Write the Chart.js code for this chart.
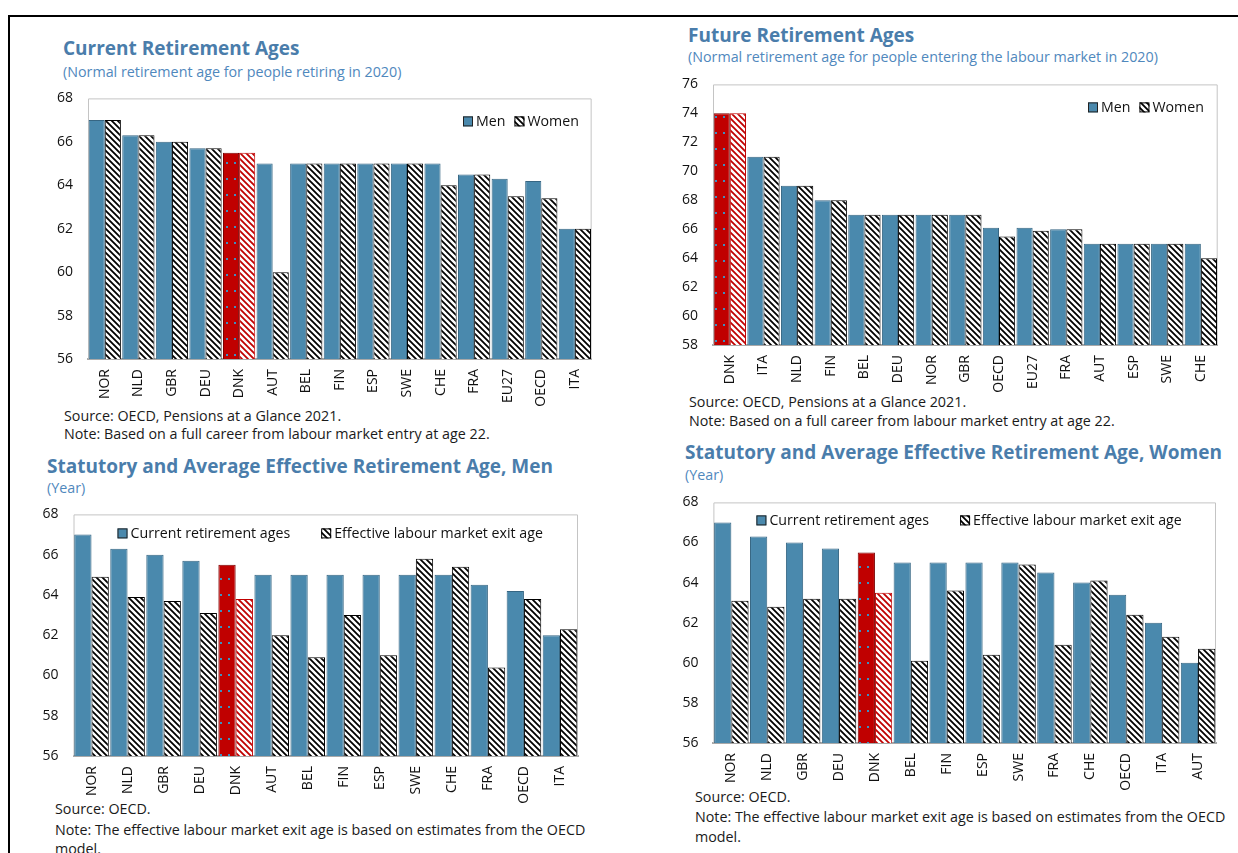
<!DOCTYPE html>
<html>
<head>
<meta charset="utf-8">
<script src="https://cdn.jsdelivr.net/npm/chart.js@4.4.0/dist/chart.umd.min.js"></script>
<style>
  html, body { margin:0; padding:0; background:#fff; }
  body { width:1238px; height:853px; position:relative; overflow:hidden; font-family:"Open Sans", "Noto Sans", sans-serif; }
  .frame { position:absolute; left:8px; top:15px; width:1240px; height:860px; border-top:2px solid #000; border-left:2px solid #000; }
  .t { position:absolute; white-space:nowrap; }
  .title { font-weight:700; font-size:19px; line-height:24px; color:#4a7dab; }
  .sub { font-size:14.3px; line-height:18px; color:#5088bd; }
  .src { font-size:14.3px; line-height:18px; color:#1a1a1a; }
  .box { position:absolute; }
</style>
</head>
<body>
<div class="frame"></div>

<div class="t title" style="left:63px; top:36px;">Current Retirement Ages</div>
<div class="t sub" style="left:63px; top:62.7px;">(Normal retirement age for people retiring in 2020)</div>
<div class="t src" style="left:64px; top:407px;">Source: OECD, Pensions at a Glance 2021.</div>
<div class="t src" style="left:64px; top:425px;">Note: Based on a full career from labour market entry at age 22.</div>

<div class="t title" style="left:688px; top:23px;">Future Retirement Ages</div>
<div class="t sub" style="left:688px; top:48.3px;">(Normal retirement age for people entering the labour market in 2020)</div>
<div class="t src" style="left:689px; top:392.7px;">Source: OECD, Pensions at a Glance 2021.</div>
<div class="t src" style="left:689px; top:411.7px;">Note: Based on a full career from labour market entry at age 22.</div>

<div class="t title" style="left:47px; top:454px;">Statutory and Average Effective Retirement Age, Men</div>
<div class="t sub" style="left:47px; top:479.3px;">(Year)</div>
<div class="t src" style="left:55px; top:800px;">Source: OECD.</div>
<div class="t src" style="left:55px; top:821px;">Note: The effective labour market exit age is based on estimates from the OECD</div>
<div class="t src" style="left:55px; top:840px;">model.</div>

<div class="t title" style="left:685px; top:439.7px;">Statutory and Average Effective Retirement Age, Women</div>
<div class="t sub" style="left:685px; top:466px;">(Year)</div>
<div class="t src" style="left:695px; top:787.7px;">Source: OECD.</div>
<div class="t src" style="left:695px; top:807.7px;">Note: The effective labour market exit age is based on estimates from the OECD</div>
<div class="t src" style="left:695px; top:827.7px;">model.</div>

<div class="box" style="left:30px; top:75px; width:572px; height:334px;"><canvas id="c1"></canvas></div>
<div class="box" style="left:655px; top:61px; width:573px; height:334px;"><canvas id="c2"></canvas></div>
<div class="box" style="left:16px; top:491px; width:572px; height:315px;"><canvas id="c3"></canvas></div>
<div class="box" style="left:655px; top:479px; width:571px; height:314px;"><canvas id="c4"></canvas></div>

<script>
// ---------- DATA ----------
const currentCountries = ["NOR","NLD","GBR","DEU","DNK","AUT","BEL","FIN","ESP","SWE","CHE","FRA","EU27","OECD","ITA"];
const currentMen       = [67, 66.3, 66, 65.7, 65.5, 65, 65, 65, 65, 65, 65, 64.5, 64.3, 64.2, 62];
const currentWomen     = [67, 66.3, 66, 65.7, 65.5, 60, 65, 65, 65, 65, 64, 64.5, 63.5, 63.4, 62];
const currentTicks     = [56, 68, 2];

const futureCountries = ["DNK","ITA","NLD","FIN","BEL","DEU","NOR","GBR","OECD","EU27","FRA","AUT","ESP","SWE","CHE"];
const futureMen       = [74, 71, 69, 68, 67, 67, 67, 67, 66.1, 66.1, 66, 65, 65, 65, 65];
const futureWomen     = [74, 71, 69, 68, 67, 67, 67, 67, 65.5, 65.9, 66, 65, 65, 65, 64];
const futureTicks     = [58, 76, 2];

const menCountries    = ["NOR","NLD","GBR","DEU","DNK","AUT","BEL","FIN","ESP","SWE","CHE","FRA","OECD","ITA"];
const menStatutory    = [67, 66.3, 66, 65.7, 65.5, 65, 65, 65, 65, 65, 65, 64.5, 64.2, 62];
const menEffective    = [64.9, 63.9, 63.7, 63.1, 63.8, 62.0, 60.9, 63.0, 61.0, 65.8, 65.4, 60.4, 63.8, 62.3];
const menTicks        = [56, 68, 2];

const womenCountries  = ["NOR","NLD","GBR","DEU","DNK","BEL","FIN","ESP","SWE","FRA","CHE","OECD","ITA","AUT"];
const womenStatutory  = [67, 66.3, 66, 65.7, 65.5, 65, 65, 65, 65, 64.5, 64, 63.4, 62, 60];
const womenEffective  = [63.1, 62.8, 63.2, 63.2, 63.5, 60.1, 63.6, 60.4, 64.9, 60.9, 64.1, 62.4, 61.3, 60.7];
const womenTicks      = [56, 68, 2];

const highlight = "DNK";
const legendGenderLabels = ["Men", "Women"];
const legendAgeLabels = ["Current retirement ages", "Effective labour market exit age"];

// ---------- STYLE ----------
const BLUE = "#4a89ad";
const BLUE_BORDER = "#366683";
const RED = "#c00000";
const FONT = '"Open Sans", "Noto Sans", sans-serif';

function hatch(color) {
  const c = document.createElement("canvas");
  c.width = 6; c.height = 6;
  const g = c.getContext("2d");
  g.fillStyle = "#fff"; g.fillRect(0, 0, 6, 6);
  g.strokeStyle = color; g.lineWidth = 1.8; g.lineCap = "square";
  g.beginPath();
  g.moveTo(0, 0); g.lineTo(6, 6);
  g.moveTo(-2, 4); g.lineTo(2, 8);
  g.moveTo(4, -2); g.lineTo(8, 2);
  g.stroke();
  return g.createPattern(c, "repeat");
}
function dotted(base, dot) {
  const c = document.createElement("canvas");
  c.width = 8; c.height = 16;
  const g = c.getContext("2d");
  g.fillStyle = base; g.fillRect(0, 0, 8, 16);
  g.fillStyle = dot; g.fillRect(4, 7, 2, 2);
  return g.createPattern(c, "repeat");
}
const HATCH_BLACK = hatch("#000");
const HATCH_RED = hatch(RED);
const RED_DOTS = dotted(RED, "#3d8fc0");

const framePlugin = {
  id: "frame",
  beforeDatasetsDraw(chart) {
    const a = chart.chartArea, ctx = chart.ctx;
    ctx.save();
    ctx.strokeStyle = "#c4c4c4"; ctx.lineWidth = 1;
    ctx.beginPath();
    ctx.moveTo(a.left + 0.5, a.bottom); ctx.lineTo(a.left + 0.5, a.top + 0.5);
    ctx.lineTo(a.right - 0.5, a.top + 0.5); ctx.lineTo(a.right - 0.5, a.bottom);
    ctx.stroke();
    ctx.restore();
  }
};

const legendPlugin = {
  id: "boxLegend",
  afterDraw(chart, args, o) {
    if (!o || !o.items) return;
    const a = chart.chartArea, ctx = chart.ctx;
    ctx.save();
    ctx.font = "14.2px " + FONT;
    ctx.textBaseline = "middle";
    let x = a.left + o.x;
    const y = a.top + o.y;
    o.items.forEach((it) => {
      ctx.fillStyle = it.fill;
      ctx.fillRect(x, y - 5, 10, 10);
      ctx.strokeStyle = it.stroke; ctx.lineWidth = 1;
      ctx.strokeRect(x + 0.5, y - 4.5, 9, 9);
      ctx.fillStyle = "#111";
      ctx.fillText(it.text, x + 13, y + 0.5);
      x += 13 + ctx.measureText(it.text).width + o.gap;
    });
    ctx.restore();
  }
};

function makeChart(id, labels, a, b, ticks, legendItems, legendPos, yWidth) {
  const isHi = (ctx) => labels[ctx.dataIndex] === highlight;
  new Chart(document.getElementById(id), {
    type: "bar",
    data: {
      labels: labels,
      datasets: [
        {
          data: a,
          backgroundColor: (ctx) => isHi(ctx) ? RED_DOTS : BLUE,
          borderColor: (ctx) => isHi(ctx) ? "#7a0000" : BLUE_BORDER,
          borderWidth: 1,
          categoryPercentage: 0.96,
          barPercentage: 1.0
        },
        {
          data: b,
          backgroundColor: (ctx) => isHi(ctx) ? HATCH_RED : HATCH_BLACK,
          borderColor: (ctx) => isHi(ctx) ? RED : "#000",
          borderWidth: 1,
          categoryPercentage: 0.96,
          barPercentage: 1.0
        }
      ]
    },
    options: {
      responsive: true,
      maintainAspectRatio: false,
      animation: false,
      layout: { padding: { top: 10, right: 10, left: 0, bottom: 0 } },
      plugins: {
        legend: { display: false },
        tooltip: { enabled: false },
        boxLegend: { items: legendItems, x: legendPos[0], y: legendPos[1], gap: legendPos[2] }
      },
      scales: {
        x: {
          grid: { display: false, drawTicks: false },
          border: { display: true, color: "#a9a9a9", width: 2 },
          ticks: { autoSkip: false, minRotation: 90, maxRotation: 90, padding: 10, color: "#111", font: { family: FONT, size: 14 } },
          afterFit: (s) => { s.height = 50; }
        },
        y: {
          min: ticks[0], max: ticks[1],
          grid: { display: false, drawTicks: false },
          border: { display: false },
          ticks: { stepSize: ticks[2], padding: 15, color: "#111", font: { family: FONT, size: 14 } },
          afterFit: (s) => { s.width = yWidth; }
        }
      }
    },
    plugins: [framePlugin, legendPlugin]
  });
}

const genderLegend = [
  { text: legendGenderLabels[0], fill: BLUE, stroke: "#222" },
  { text: legendGenderLabels[1], fill: HATCH_BLACK, stroke: "#000" }
];
const ageLegend = [
  { text: legendAgeLabels[0], fill: BLUE, stroke: "#222" },
  { text: legendAgeLabels[1], fill: HATCH_BLACK, stroke: "#000" }
];

makeChart("c1", currentCountries, currentMen, currentWomen, currentTicks, genderLegend, [375, 23, 9], 58);
makeChart("c2", futureCountries, futureMen, futureWomen, futureTicks, genderLegend, [375, 23, 9], 58);
makeChart("c3", menCountries, menStatutory, menEffective, menTicks, ageLegend, [44, 19, 31], 57.5);
makeChart("c4", womenCountries, womenStatutory, womenEffective, womenTicks, ageLegend, [43, 18, 31], 58.4);
</script>
</body>
</html>
